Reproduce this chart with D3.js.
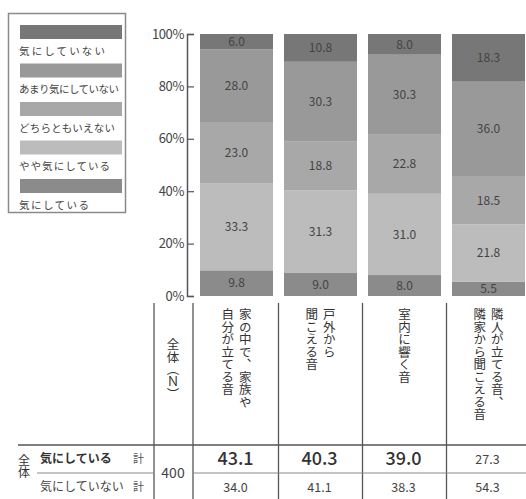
<!DOCTYPE html>
<html>
<head>
<meta charset="utf-8">
<script src="https://cdn.jsdelivr.net/npm/d3@7/dist/d3.min.js"></script>
<style>
  html, body { margin: 0; padding: 0; background: #fff; }
  svg { display: block; }
  text { font-family: "Noto Sans CJK JP", "Noto Sans", sans-serif; fill: #404040; }
</style>
</head>
<body>
<svg id="chart" width="526" height="499"></svg>
<script>
// Categories (columns), in vertical Japanese; each entry is a list of lines (right to left)
const categories = ["c1", "c2", "c3", "c4"];
const categoryLines = [
  ["家の中で、家族や", "自分が立てる音"],
  ["戸外から", "聞こえる音"],
  ["室内に響く音"],
  ["隣人が立てる音、", "隣家から聞こえる音"]
];

// Response series, from bottom of the stack to top
const seriesNames = ["気にしている", "やや気にしている", "どちらともいえない", "あまり気にしていない", "気にしていない"];
const kiniShiteiru      = [9.8, 9.0, 8.0, 5.5];
const yayaKiniShiteiru  = [33.3, 31.3, 31.0, 21.8];
const dochiraTomo       = [23.0, 18.8, 22.8, 18.5];
const amariKiniShinai   = [28.0, 30.3, 30.3, 36.0];
const kiniShiteinai     = [6.0, 10.8, 8.0, 18.3];
const seriesValues = [kiniShiteiru, yayaKiniShiteiru, dochiraTomo, amariKiniShinai, kiniShiteinai];

const yTicks = [0, 20, 40, 60, 80, 100];
const sampleN = 400;

const colors = ["#8b8b8b", "#bcbcbc", "#a8a8a8", "#999999", "#777777"];

const svg = d3.select("#chart");

// Scales
const x = d3.scaleBand().domain(categories).range([200, 525]).paddingInner(0.131).paddingOuter(0);
const y = d3.scaleLinear().domain([0, 100]).range([296, 34]);
const color = d3.scaleOrdinal().domain(seriesNames).range(colors);

// Stack
const rows = categories.map((c, i) => {
  const r = { cat: c };
  seriesNames.forEach((s, k) => { r[s] = seriesValues[k][i]; });
  return r;
});
const stacked = d3.stack().keys(seriesNames)(rows);

const layers = svg.append("g").selectAll("g").data(stacked).join("g")
  .attr("fill", d => color(d.key));

layers.selectAll("rect").data(d => d).join("rect")
  .attr("x", d => x(d.data.cat))
  .attr("width", x.bandwidth())
  .attr("y", d => y(Math.min(d[1], 100)))
  .attr("height", d => y(d[0]) - y(Math.min(d[1], 100)));

layers.selectAll("text").data(d => d.map(v => Object.assign(v, { key: d.key }))).join("text")
  .attr("x", d => x(d.data.cat) + x.bandwidth() / 2)
  .attr("y", d => (y(d[0]) + y(Math.min(d[1], 100))) / 2)
  .attr("dy", "0.36em")
  .attr("text-anchor", "middle")
  .attr("font-size", 12)
  .style("fill", "#444")
  .text(d => d.data[d.key].toFixed(1));

// Y axis with bracket ends facing the bars
const yAxis = d3.axisLeft(y).tickValues(yTicks).tickSize(-7).tickSizeOuter(-7).tickPadding(3)
  .tickFormat(d => d + "%");
const axisG = svg.append("g").attr("transform", "translate(187,0)").call(yAxis);
axisG.select(".domain").attr("stroke", "#555").attr("stroke-width", 1.5);
axisG.selectAll(".tick line").attr("stroke", "#555").attr("stroke-width", 1.2);
axisG.selectAll(".tick text").attr("font-size", 13).attr("letter-spacing", -0.4)
  .style("fill", "#444").attr("font-family", "\"Noto Sans CJK JP\", sans-serif");

// Legend
const legend = svg.append("g");
legend.append("rect").attr("x", 8.5).attr("y", 13.5).attr("width", 117).attr("height", 199)
  .attr("fill", "#fff").attr("stroke", "#8a8a8a").attr("stroke-width", 1.5);
const legendOrder = seriesNames.slice().reverse();
const legendWidths = [86, 100, 96, 91, 70];
legendOrder.forEach((s, i) => {
  const top = 25 + i * 38.5;
  legend.append("rect").attr("x", 20).attr("y", top).attr("width", 102).attr("height", 14)
    .attr("fill", color(s));
  legend.append("text").attr("x", 19).attr("y", top + 26).attr("dy", "0.36em")
    .attr("font-size", 10.5).attr("textLength", legendWidths[i]).attr("lengthAdjust", "spacing")
    .style("fill", "#444").text(s);
});

// Table grid
const grid = svg.append("g").attr("stroke", "#555").attr("stroke-width", 1.3);
const step = x.step();
const gap = step - x.bandwidth();
const colEdges = [154, 193].concat(categories.slice(1).map(c => x(c) - gap / 2));
colEdges.forEach(cx => {
  grid.append("line").attr("x1", cx).attr("x2", cx).attr("y1", 303).attr("y2", 499);
});
grid.append("line").attr("x1", 18).attr("x2", 526).attr("y1", 445).attr("y2", 445);
grid.append("line").attr("x1", 37).attr("x2", 154).attr("y1", 473).attr("y2", 473).attr("stroke", "#888").attr("stroke-width", 1);
grid.append("line").attr("x1", 193).attr("x2", 526).attr("y1", 473).attr("y2", 473).attr("stroke", "#888").attr("stroke-width", 1);

// Vertical column headers
const vText = (g, tx, ty, str, size) => g.append("text")
  .attr("x", tx).attr("y", ty)
  .style("writing-mode", "vertical-rl")
  .attr("font-size", size)
  .style("fill", "#333")
  .text(str);

vText(svg, 173, 338, "全体（Ｎ）", 12.5);
categoryLines.forEach((lines, i) => {
  const cx = x(categories[i]) + x.bandwidth() / 2;
  const lineGap = 17.5;
  const offset = (lines.length - 1) * lineGap / 2;
  lines.forEach((ln, j) => {
    vText(svg, cx + offset - j * lineGap, 308, ln, 12.5);
  });
});

// Summary rows
vText(svg, 24, 454, "全体", 12);
svg.append("text").attr("x", 40).attr("y", 459).attr("dy", "0.36em").attr("font-size", 12)
  .attr("font-weight", "bold").style("fill", "#333").text("気にしている");
svg.append("text").attr("x", 40).attr("y", 487).attr("dy", "0.36em").attr("font-size", 12)
  .style("fill", "#444").text("気にしていない");
svg.append("text").attr("x", 133).attr("y", 459).attr("dy", "0.36em").attr("font-size", 11)
  .style("fill", "#555").text("計");
svg.append("text").attr("x", 133).attr("y", 487).attr("dy", "0.36em").attr("font-size", 11)
  .style("fill", "#555").text("計");
svg.append("text").attr("x", 173).attr("y", 473).attr("dy", "0.36em").attr("text-anchor", "middle")
  .attr("font-size", 14).style("fill", "#444").text(sampleN);

const concernedTotals = categories.map((c, i) => kiniShiteiru[i] + yayaKiniShiteiru[i]);
const unconcernedTotals = categories.map((c, i) => amariKiniShinai[i] + kiniShiteinai[i]);

categories.forEach((c, i) => {
  const cx = x(c) + x.bandwidth() / 2 - 1;
  const big = concernedTotals[i] >= 39;
  svg.append("text").attr("x", cx).attr("y", 459).attr("dy", "0.36em").attr("text-anchor", "middle")
    .attr("font-size", big ? 18 : 12.5).attr("font-weight", big ? 500 : 400)
    .style("fill", big ? "#333" : "#444")
    .text(concernedTotals[i].toFixed(1));
  svg.append("text").attr("x", cx).attr("y", 487).attr("dy", "0.36em").attr("text-anchor", "middle")
    .attr("font-size", 12.5).style("fill", "#444")
    .text(unconcernedTotals[i].toFixed(1));
});
</script>
</body>
</html>
